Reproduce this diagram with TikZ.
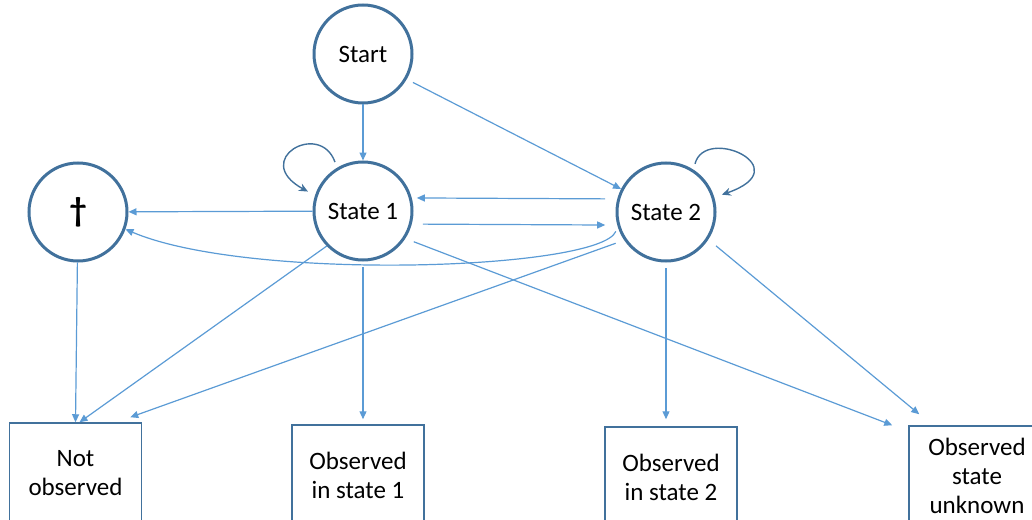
\documentclass[tikz,border=0pt]{standalone}
\usepackage{fontspec}
\setmainfont{Carlito}
\usetikzlibrary{positioning,arrows.meta}
\definecolor{circblue}{HTML}{41719C}
\definecolor{lineblue}{HTML}{5B9BD5}
\begin{document}
\begin{tikzpicture}[x=0.5pt,y=-0.5pt,
    state/.style={draw=circblue,line width=1.5pt,circle,minimum size=49pt,inner sep=0pt,font=\fontsize{12.5}{14.5}\selectfont},
    outcome/.style={draw=circblue,line width=0.75pt,rectangle,minimum width=66pt,minimum height=50pt,align=center,inner sep=0pt,font=\fontsize{12.5}{14.5}\selectfont},
    edge/.style={draw=lineblue,line width=0.6pt,-{Triangle[length=4pt,width=3.5pt]}},
    selfloop/.style={draw=circblue,line width=0.7pt,-{Stealth[length=4.5pt,width=4pt]}}]
    \useasboundingbox (0,0) rectangle (1032,519);
    \clip (0,0) rectangle (1032,519);
    % states
    \node (start) [state] at (363,54) {Start};
    \node (state1) [state] at (363,211) {State 1};
    \node (state2) [state] at (666,212) {State 2};
    \node (dead) [state,font=\fontsize{17}{18}\selectfont\bfseries] at (78,212) {†};
    % observations
    \node (notobs) [outcome] at (75.5,473) {Not\\observed};
    \node (obs1) [outcome] at (358,475) {Observed\\in state 1};
    \node (obs2) [outcome] at (671,477) {Observed\\in state 2};
    \node (unknown) [outcome,minimum width=68pt] at (977,476) {Observed\\state\\unknown};
    % transitions
    \draw[edge] (start) -- (state1);
    \draw[edge,shorten <=3.5pt] (start.-30) -- (state2);
    \draw[selfloop,shorten <=3pt,shorten >=4pt] (state1.121) .. controls (320,120) and (250,160) .. (state1.162);
    \draw[selfloop,shorten <=3pt,shorten >=4pt] (state2.57) .. controls (705,125) and (800,168) .. (state2.17);
    \draw[edge,shorten <=6pt,shorten >=2.5pt] (state2.165) -- (state1.15);
    \draw[edge,shorten <=5.5pt,shorten >=6pt] (state1.-15) -- (state2.195);
    \draw[edge] (state1) -- (dead);
    \draw[edge,shorten <=2.5pt] (state2.197) .. controls (600,270) and (250,282) .. (dead.340);
    % observation arrows
    \draw[edge] (dead) -- (notobs.north);
    \draw[edge] (state1.224) -- ([xshift=2pt]notobs.north);
    \draw[edge,shorten <=4.5pt] (state2.214) -- ([xshift=-6pt,yshift=2.5pt]notobs.north east);
    \draw[edge,shorten <=2.75pt,shorten >=2.5pt] (state1.south) -- (state1.south |- obs1.north);
    \draw[edge,shorten <=4.5pt] (state1.-33) -- ([xshift=-8pt]unknown.north west);
    \draw[edge,shorten <=2.75pt,shorten >=3.5pt] (state2.south) -- (state2.south |- obs2.north);
    \draw[edge,shorten <=5pt] (state2.-33) -- ([shift={(5.5pt,5.5pt)}]unknown.north west);
\end{tikzpicture}
\end{document}
